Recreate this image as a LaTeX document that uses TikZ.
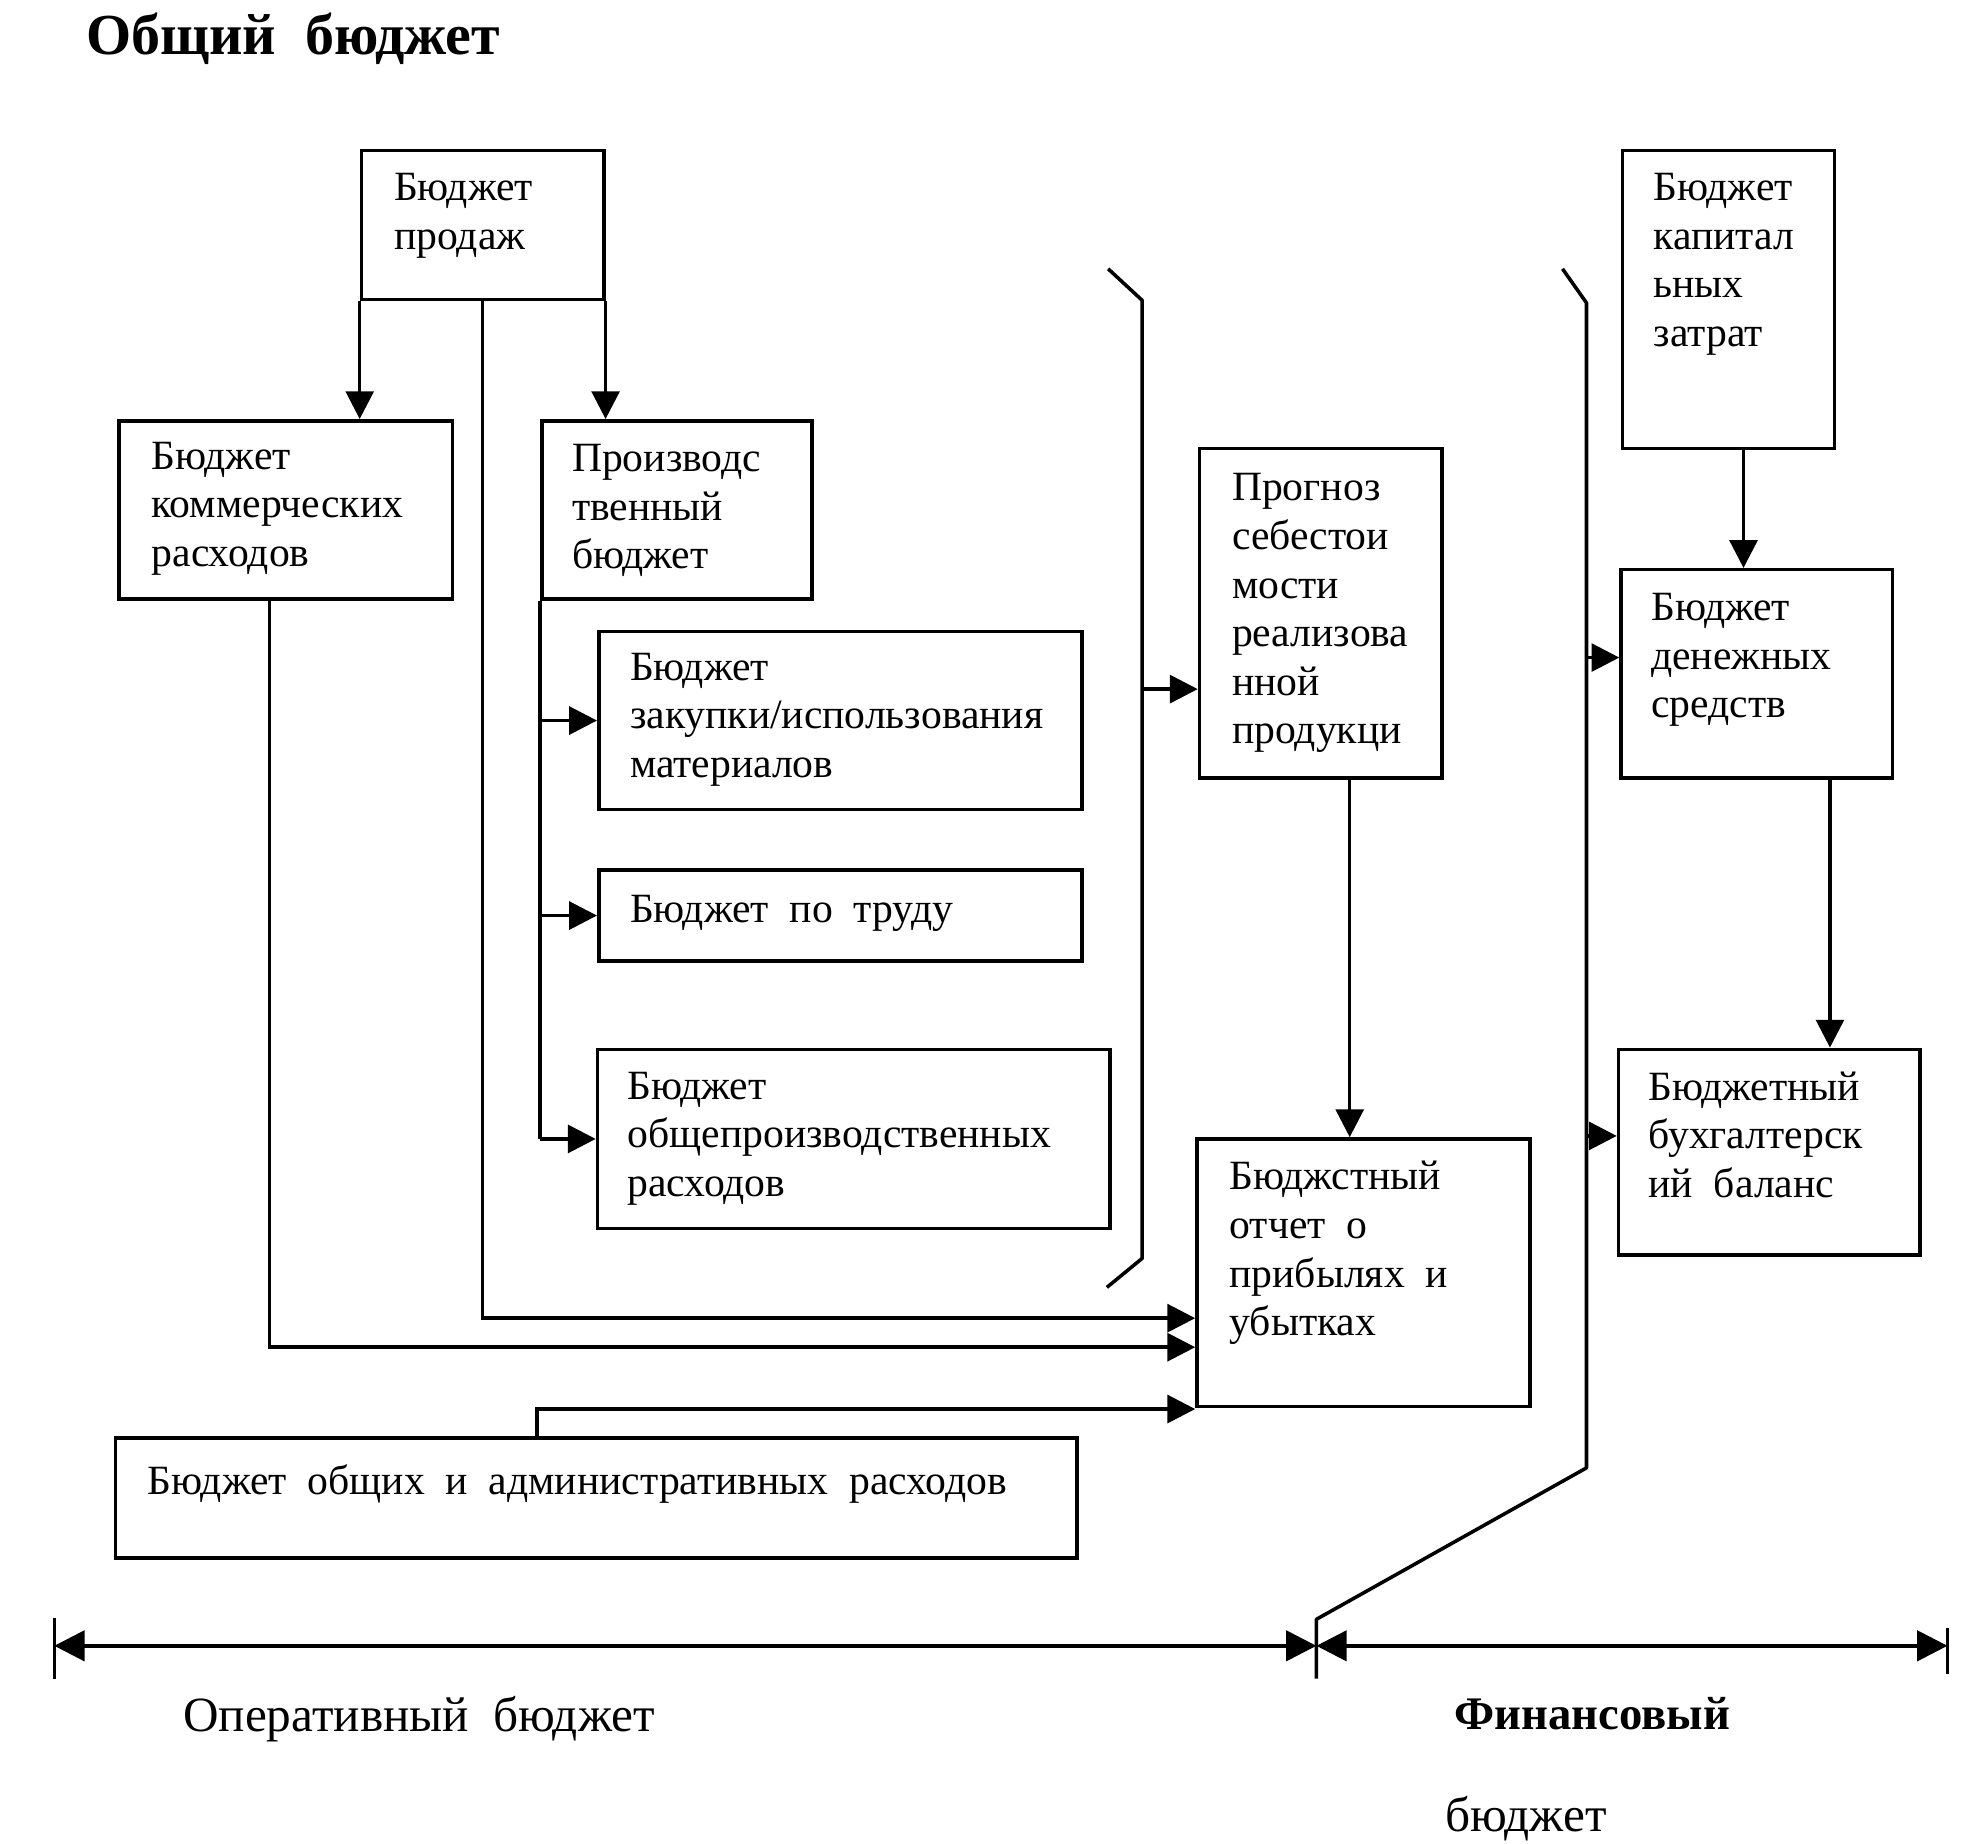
\documentclass[tikz,border=0pt]{standalone}
\usepackage{fontspec}
\setmainfont{Liberation Serif}
\usetikzlibrary{arrows.meta}
\begin{document}
\begin{tikzpicture}[x=1pt,y=-1pt,
  box/.style={draw, line width=2.8pt, inner sep=0pt, anchor=north west},
  txt/.style={anchor=north west, align=left, inner sep=0pt, font=\fontsize{33}{38.5}\selectfont},
  lbl/.style={anchor=north west, inner sep=0pt, font=\fontsize{39}{46}\selectfont},
  conn/.style={line width=2.8pt},
  arr/.style={conn, -{Triangle[length=22pt,width=22pt]}},
  darr/.style={conn, {Triangle[length=24pt,width=24pt]}-{Triangle[length=24pt,width=24pt]}}
]
\useasboundingbox (0,0) rectangle (1568,1461);

% title
\node[anchor=north west, inner sep=0pt, font=\fontsize{46}{52}\selectfont\bfseries] (title) at (68,10) {Общий\ \ бюджет};

% boxes
\node[box, minimum width=192pt, minimum height=118pt] (sales) at (285,118) {};
\node[box, minimum width=264pt, minimum height=141pt] (comm) at (93,332) {};
\node[box, minimum width=214pt, minimum height=141pt] (prod) at (428,332) {};
\node[box, minimum width=383pt, minimum height=141pt] (mat) at (473,499) {};
\node[box, minimum width=383pt, minimum height=72pt] (lab) at (473,688) {};
\node[box, minimum width=406pt, minimum height=142pt] (ovh) at (472,830) {};
\node[box, minimum width=192pt, minimum height=261pt] (cost) at (949,354) {};
\node[box, minimum width=264pt, minimum height=212pt] (inc) at (947,901) {};
\node[box, minimum width=762pt, minimum height=95pt] (adm) at (90,1138) {};
\node[box, minimum width=168pt, minimum height=236pt] (cap) at (1284,118) {};
\node[box, minimum width=215pt, minimum height=165pt] (cash) at (1283,450) {};
\node[box, minimum width=239pt, minimum height=163pt] (bal) at (1281,830) {};

% texts
\node[txt] (salesT) at (312,137) {Бюджет\\продаж};
\node[txt] (commT) at (120,350) {Бюджет\\коммерческих\\расходов};
\node[txt] (prodT) at (453,352) {Производс\\твенный\\бюджет};
\node[txt] (matT) at (499,517) {Бюджет\\закупки/использования\\материалов};
\node[txt] (labT) at (499,709) {Бюджет\ \ по\ \ труду};
\node[txt] (ovhT) at (497,849) {Бюджет\\общепроизводственных\\расходов};
\node[txt] (costT) at (976,375) {Прогноз\\себестои\\мости\\реализова\\нной\\продукци};
\node[txt] (incT) at (974,920) {Бюджстный\\отчет\ \ о\\прибылях\ \ и\\убытках};
\node[txt] (admT) at (117,1160) {Бюджет\ \ общих\ \ и\ \ административных\ \ расходов};
\node[txt] (capT) at (1310,137) {Бюджет\\капитал\\ьных\\затрат};
\node[txt] (cashT) at (1308,470) {Бюджет\\денежных\\средств};
\node[txt] (balT) at (1306,849) {Бюджетный\\бухгалтерск\\ий\ \ баланс};

% connectors from sales
\draw[arr] (sales.south west) -- (sales.south west |- comm.north);
\draw[arr] (sales.south east) -- (sales.south east |- prod.north);
\draw[arr] (sales.south) |- ([yshift=-36pt]inc.west);
\draw[arr] ([xshift=-13pt]comm.south) |- ([yshift=-59pt]inc.west);
\draw[arr] ([xshift=-47pt]adm.north) |- ([yshift=-108pt]inc.west);

% production branches
\draw[conn] (prod.south west) -- (prod.south west |- ovh.west);
\draw[arr] (prod.south west |- ovh.west) -- (ovh.west);
\draw[arr] (prod.south west |- mat.west) -- (mat.west);
\draw[arr] (prod.south west |- lab.west) -- (lab.west);

% bracket 1 (operational)
\coordinate (b1a) at (878,213);
\coordinate (b1b) at (905,238);
\coordinate (b1m) at (905,546);
\coordinate (b1c) at (905,997);
\coordinate (b1d) at (877,1020);
\draw[conn, line join=round] (b1a) -- (b1b) -- (b1c) -- (b1d);
\draw[arr] (b1m) -- (b1m -| cost.west);

\draw[arr] ([xshift=23pt]cost.south) -- ([xshift=23pt]cost.south |- inc.north);

% bracket 2 (financial)
\coordinate (b2a) at (1238,213);
\coordinate (b2b) at (1257,240);
\coordinate (b2m1) at (1257,521);
\coordinate (b2m2) at (1257,900);
\coordinate (b2c) at (1257,1163);
\coordinate (b2d) at (1043,1283);
\coordinate (b2e) at (1043,1330);
\draw[conn, line join=round] (b2a) -- (b2b) -- (b2c) -- (b2d) -- (b2e);
\draw[arr] (b2m1) -- (b2m1 -| cash.west);
\draw[arr] (b2m2) -- (b2m2 -| bal.west);

\draw[arr] ([xshift=12pt]cap.south) -- ([xshift=12pt]cap.south |- cash.north);
\draw[arr] ([xshift=58pt]cash.south) -- ([xshift=58pt]cash.south |- bal.north);

% dimension line
\coordinate (dL) at (43,1304);
\coordinate (dM) at (1043,1304);
\coordinate (dR) at (1543,1304);
\coordinate (tL1) at (43,1282);
\coordinate (tL2) at (43,1330);
\coordinate (tR1) at (1543,1290);
\coordinate (tR2) at (1543,1326);
\draw[conn] (tL1) -- (tL2);
\draw[conn] (tR1) -- (tR2);
\draw[darr] (dL) -- (dM);
\draw[darr] (dM) -- (dR);

% bottom labels
\node[lbl] (opL) at (145,1344) {Оперативный\ \ бюджет};
\node[lbl, font=\fontsize{37}{44}\selectfont\bfseries] (finL) at (1152,1345) {Финансовый};
\node[lbl] (finL2) at (1145,1423) {бюджет};
\end{tikzpicture}
\end{document}
